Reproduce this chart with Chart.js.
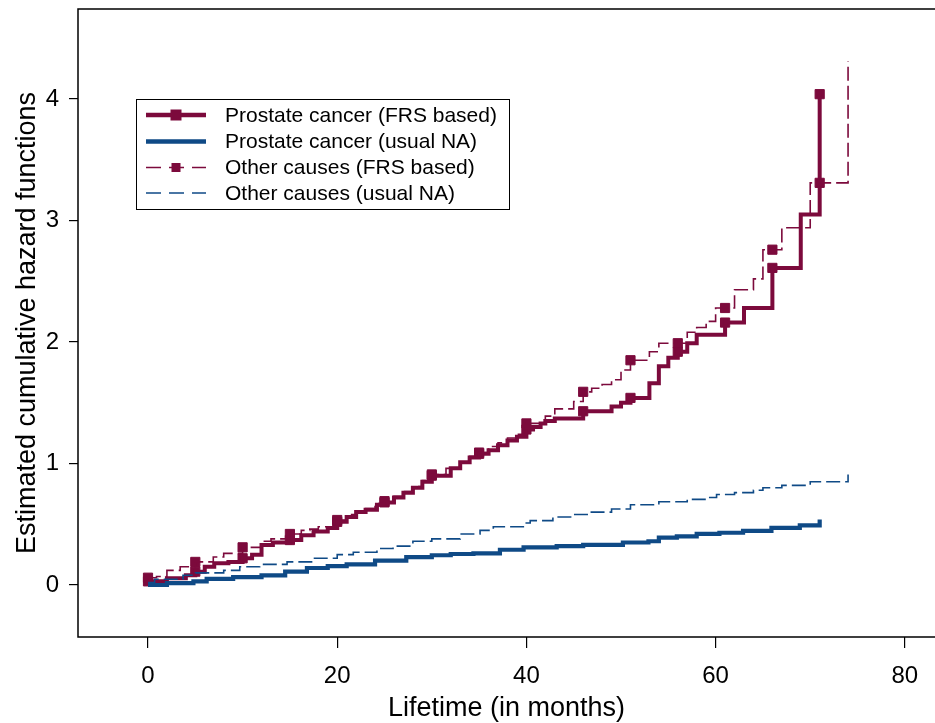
<!DOCTYPE html>
<html>
<head>
<meta charset="utf-8">
<script src="https://cdn.jsdelivr.net/npm/chart.js@4/dist/chart.umd.min.js"></script>
<style>
  html, body { margin: 0; padding: 0; background: #fff; }
  canvas { display: block; }
</style>
</head>
<body>
<canvas id="chart" width="935" height="723"></canvas>
<script>
// Prostate cancer (FRS based) - step times and values
const prostFrsT = [0, 2, 4, 5, 6, 7, 8.5, 10, 11, 12, 13.2, 15, 16.2, 17.5, 19, 20, 21, 22, 23, 24.2, 25, 26, 27, 28, 29, 30, 32, 33, 34, 35, 36, 37, 38, 39, 40, 40.7, 41.5, 42, 43, 46, 49, 50, 51, 53, 54, 55, 56, 57, 58, 61, 63, 66, 69, 71];
const prostFrsV = [0.03, 0.055, 0.08, 0.11, 0.15, 0.18, 0.19, 0.22, 0.25, 0.33, 0.35, 0.37, 0.41, 0.44, 0.47, 0.52, 0.56, 0.60, 0.62, 0.66, 0.68, 0.72, 0.76, 0.80, 0.85, 0.90, 0.96, 1.01, 1.05, 1.08, 1.11, 1.15, 1.19, 1.22, 1.28, 1.30, 1.33, 1.35, 1.37, 1.43, 1.47, 1.50, 1.54, 1.66, 1.80, 1.87, 1.92, 1.99, 2.06, 2.16, 2.28, 2.61, 3.05, 4.04];

// Prostate cancer (usual NA)
const prostNaT = [0, 2, 4.8, 6.2, 9, 12, 14.5, 16.8, 19, 21, 24, 27.3, 30, 32, 34.4, 37.2, 39.7, 43.2, 46, 50.2, 52.9, 54, 55.9, 58, 60.4, 62.9, 65.9, 68.9, 71];
const prostNaV = [0.0, 0.015, 0.03, 0.05, 0.065, 0.08, 0.11, 0.14, 0.155, 0.17, 0.20, 0.23, 0.245, 0.255, 0.26, 0.29, 0.31, 0.32, 0.33, 0.35, 0.36, 0.39, 0.40, 0.42, 0.43, 0.445, 0.47, 0.49, 0.54];

// Other causes (FRS based)
const othFrsT = [0, 0.9, 2, 3.4, 5, 6.9, 8, 10, 12, 13, 15, 16.2, 17.1, 18, 20, 21, 22, 23, 24, 25, 26, 27, 28, 29, 30, 31.5, 33, 34, 35, 36, 37, 38, 39, 40, 42, 43, 45, 46, 46.9, 48, 49, 50, 51, 53, 54, 57, 58, 59, 60, 62, 64, 65, 67, 70, 74];
const othFrsV = [0.06, 0.07, 0.12, 0.15, 0.19, 0.23, 0.26, 0.31, 0.36, 0.38, 0.42, 0.45, 0.46, 0.48, 0.535, 0.58, 0.61, 0.63, 0.67, 0.69, 0.73, 0.77, 0.81, 0.86, 0.91, 0.96, 1.01, 1.06, 1.09, 1.14, 1.17, 1.21, 1.24, 1.33, 1.39, 1.45, 1.51, 1.59, 1.62, 1.65, 1.69, 1.77, 1.85, 1.92, 1.99, 2.08, 2.12, 2.17, 2.28, 2.43, 2.52, 2.76, 2.94, 3.31, 4.31];

// Other causes (usual NA)
const othNaT = [0, 0.7, 3.7, 5, 8, 9.7, 11.8, 14.7, 17.5, 20, 21.7, 24.2, 25.9, 28, 30, 33, 35.1, 36.5, 39.9, 40.4, 42.8, 45, 46.7, 49, 51, 54, 57, 59, 60.1, 62, 64, 65, 67, 70, 74];
const othNaV = [0.02, 0.047, 0.08, 0.10, 0.12, 0.15, 0.17, 0.19, 0.22, 0.25, 0.27, 0.30, 0.32, 0.36, 0.38, 0.42, 0.45, 0.48, 0.51, 0.53, 0.56, 0.58, 0.60, 0.625, 0.66, 0.685, 0.705, 0.72, 0.745, 0.76, 0.78, 0.80, 0.82, 0.85, 0.91];

// times where the FRS curves carry a square marker
const markT = [0, 5, 10, 15, 20, 25, 30, 35, 40, 46, 51, 56, 61, 66, 71];

const xTicks = [0, 20, 40, 60, 80];
const yTicks = [0, 1, 2, 3, 4];

const labels = [
  'Prostate cancer (FRS based)',
  'Prostate cancer (usual NA)',
  'Other causes (FRS based)',
  'Other causes (usual NA)'
];

const maroon = '#7c0a3c';
const navy = '#0f4a86';
const fontFam = '"Liberation Sans", Arial, sans-serif';

const pts = (t, v) => t.map((x, i) => ({ x: x, y: v[i] }));
// value of a right-continuous step curve at time x
const stepAt = (t, v, x) => {
  let val = v[0];
  for (let i = 0; i < t.length; i++) if (t[i] <= x) val = v[i];
  return val;
};
const marks = (t, v) => markT.map(x => ({ x: x, y: stepAt(t, v, x) }));

const lineDs = (label, data, color, width, dash) => ({
  label: label, data: data, borderColor: color, borderWidth: width,
  borderDash: dash, stepped: 'before', pointRadius: 0, fill: false
});
const markDs = (data, color) => ({
  label: '', data: data, showLine: false, pointStyle: 'rect',
  pointRadius: 6.5, pointBackgroundColor: color, pointBorderColor: color, pointBorderWidth: 1
});

// plot region outline
const boxPlugin = {
  id: 'box',
  afterDraw(chart) {
    const { ctx, chartArea: a } = chart;
    ctx.save();
    ctx.strokeStyle = '#000';
    ctx.lineWidth = 1.5;
    ctx.beginPath();
    ctx.moveTo(a.right + 2, a.top);
    ctx.lineTo(a.left, a.top);
    ctx.lineTo(a.left, a.bottom);
    ctx.lineTo(a.right + 2, a.bottom);
    ctx.stroke();
    ctx.restore();
  }
};

// legend drawn inside the plot, Stata style
const legendPlugin = {
  id: 'inLegend',
  afterDraw(chart) {
    const ctx = chart.ctx;
    const x0 = 136, y0 = 99, w = 373, h = 110;
    const rows = [115, 141.5, 167.5, 193];
    const styles = [
      { c: maroon, w: 4.5, dash: [], mark: 5.5 },
      { c: navy, w: 4.5, dash: [], mark: 0 },
      { c: maroon, w: 1.4, dash: [15, 8], mark: 4.5 },
      { c: navy, w: 1.4, dash: [15, 8], mark: 0 }
    ];
    ctx.save();
    ctx.fillStyle = '#fff';
    ctx.fillRect(x0, y0, w, h);
    ctx.strokeStyle = '#000';
    ctx.lineWidth = 1;
    ctx.strokeRect(x0 + 0.5, y0 + 0.5, w, h);
    rows.forEach((y, i) => {
      const s = styles[i];
      ctx.strokeStyle = s.c;
      ctx.lineWidth = s.w;
      ctx.setLineDash(s.dash);
      ctx.beginPath();
      ctx.moveTo(146, y);
      ctx.lineTo(206, y);
      ctx.stroke();
      ctx.setLineDash([]);
      if (s.mark) {
        ctx.fillStyle = s.c;
        ctx.fillRect(176 - s.mark, y - s.mark, 2 * s.mark, 2 * s.mark);
      }
      ctx.fillStyle = '#000';
      ctx.font = '21px ' + fontFam;
      ctx.textBaseline = 'middle';
      ctx.fillText(labels[i], 225, y + 1);
    });
    ctx.restore();
  }
};

const ctx = document.getElementById('chart').getContext('2d');
new Chart(ctx, {
  type: 'line',
  data: {
    datasets: [
      lineDs(labels[3], pts(othNaT, othNaV), navy, 1.6, [14, 5]),
      lineDs(labels[1], pts(prostNaT, prostNaV), navy, 4.2, []),
      lineDs(labels[2], pts(othFrsT, othFrsV), maroon, 1.6, [14, 5]),
      lineDs(labels[0], pts(prostFrsT, prostFrsV), maroon, 4, []),
      markDs(marks(othFrsT, othFrsV), maroon),
      markDs(marks(prostFrsT, prostFrsV), maroon)
    ]
  },
  options: {
    responsive: false,
    animation: false,
    layout: { autoPadding: false, padding: { top: 9, right: 0, bottom: 0, left: 0 } },
    plugins: { legend: { display: false }, tooltip: { enabled: false } },
    scales: {
      x: {
        type: 'linear',
        min: -7.40,
        max: 83.19,
        afterBuildTicks: s => { s.ticks = xTicks.map(v => ({ value: v })); },
        afterFit: s => { s.height = 86; s.paddingLeft = 0; s.paddingRight = 0; },
        grid: { drawOnChartArea: false, drawTicks: true, tickLength: 11, color: '#000', lineWidth: 1.2 },
        border: { display: false },
        ticks: { color: '#000', padding: 14, maxRotation: 0, font: { family: fontFam, size: 24 } },
        title: { display: true, text: 'Lifetime (in months)', color: '#000', padding: 0, font: { family: fontFam, size: 27, lineHeight: 1.1 } }
      },
      y: {
        type: 'linear',
        min: -0.428,
        max: 4.741,
        afterBuildTicks: s => { s.ticks = yTicks.map(v => ({ value: v })); },
        afterFit: s => { s.width = 78; s.paddingTop = 0; s.paddingBottom = 0; },
        grid: { drawOnChartArea: false, drawTicks: true, tickLength: 9, color: '#000', lineWidth: 1.2 },
        border: { display: false },
        ticks: { color: '#000', padding: 10, font: { family: fontFam, size: 24 } },
        title: { display: true, text: 'Estimated cumulative hazard functions', color: '#000', padding: { top: 11, bottom: 0 }, font: { family: fontFam, size: 27 } }
      }
    }
  },
  plugins: [boxPlugin, legendPlugin]
});
</script>
</body>
</html>
